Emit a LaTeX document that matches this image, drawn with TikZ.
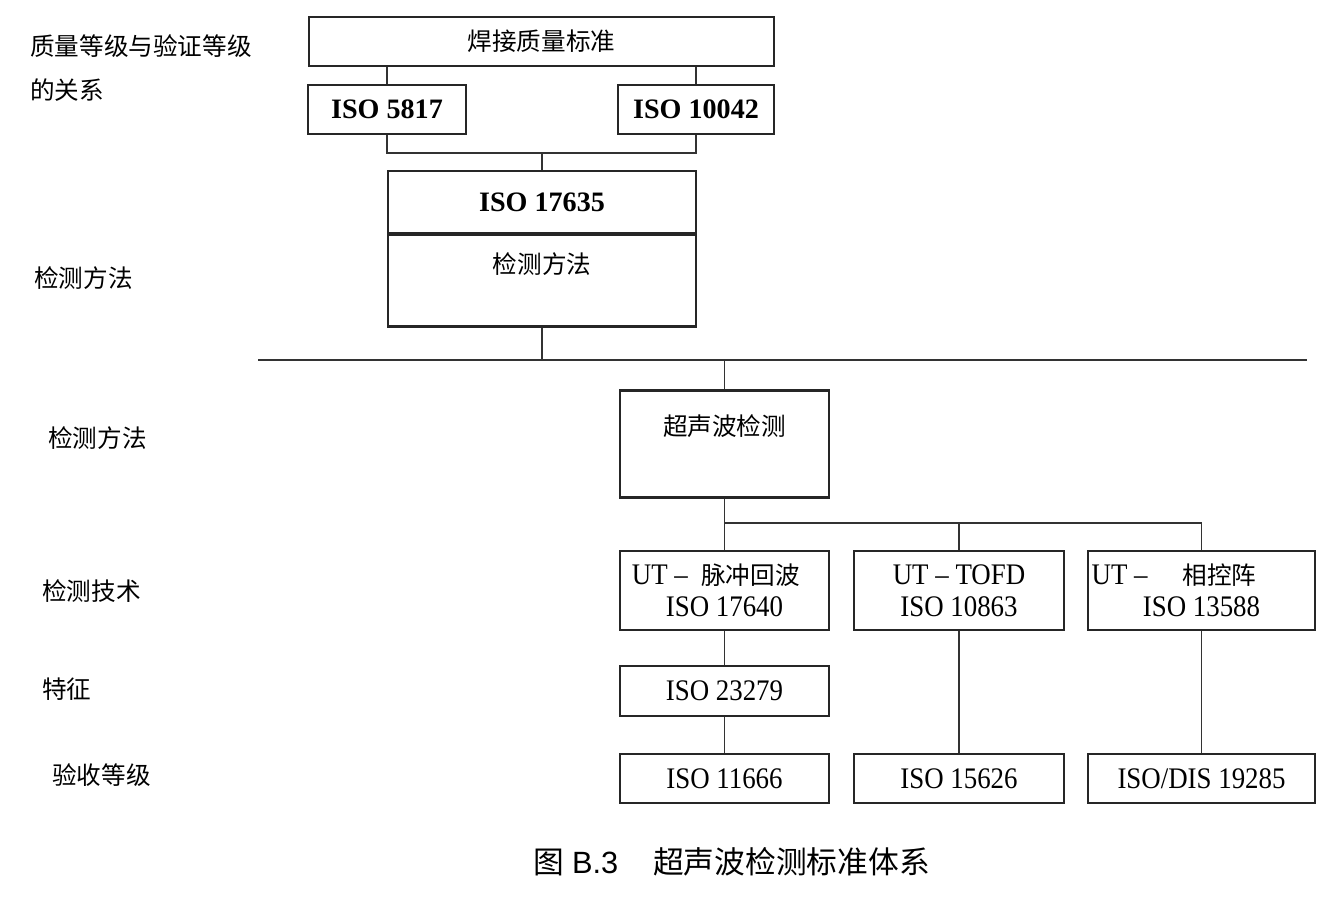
\documentclass[tikz,border=0pt]{standalone}
\usepackage{fontspec}
\setmainfont{Liberation Serif}
\newfontfamily\cjk{Noto Sans CJK SC}
\newfontfamily\isofont[FakeStretch=0.9]{Liberation Serif}
\newfontfamily\capsans{Liberation Sans}
\usetikzlibrary{positioning}

\begin{document}
\begin{tikzpicture}[x=0.02cm, y=-0.02cm,
    stdbox/.style={draw=black!85, line width=1.5pt, inner sep=0pt, align=center},
    boldiso/.style={font=\fontsize{16}{18}\bfseries\selectfont},
    plainiso/.style={font=\fontsize{17}{18}\isofont},
    link/.style={draw=black!80, line width=0.6pt},
    sidelabel/.style={anchor=west, inner sep=0pt, align=left, font=\fontsize{14}{25}\cjk}]
        \useasboundingbox (0,0) rectangle (1337,913);

        % Upper part: quality standards
        \node[stdbox, minimum width=9.3cm, minimum height=0.98cm, font=\fontsize{14}{16}\cjk] (std) at (541.5,41.5) {焊接质量标准};
        \node[stdbox, boldiso, minimum width=3.16cm, minimum height=0.98cm] (iso5817) at (387,109.5) {ISO 5817};
        \node[stdbox, boldiso, minimum width=3.12cm, minimum height=0.98cm] (iso10042) at (696,109.5) {ISO 10042};
        \node[stdbox, boldiso, minimum width=6.16cm, minimum height=1.24cm] (iso17635) at (542,202) {ISO 17635};
        \node[stdbox, anchor=north, minimum width=6.16cm, text height=0.786cm, text depth=1.054cm, font=\fontsize{14}{16}\cjk] (method) at (542,233) {检测方法};

        \draw[link] (iso5817.north) -- (iso5817.north |- std.south);
        \draw[link] (iso10042.north) -- (iso10042.north |- std.south);
        \coordinate (fork1) at (542,153);
        \draw[link] (iso5817.south) |- (fork1) -| (iso10042.south);
        \draw[link] (fork1) -- (iso17635.north);

        % Separating line
        \coordinate (busL) at (258,360);
        \coordinate (busR) at (1307,360);
        \draw[line width=0.7pt, draw=black!80] (busL) -- (busR);
        \draw[link] (method.south) -- (method.south |- busL);

        % Lower part: ultrasonic testing
        \node[stdbox, anchor=north, minimum width=4.18cm, text height=0.906cm, text depth=1.234cm, font=\fontsize{14}{16}\cjk] (ut) at (724.5,389) {超声波检测};
        \draw[link] (ut.north) -- (ut.north |- busL);

        \node[stdbox, plainiso, minimum width=4.18cm, minimum height=1.58cm] (pe) at (724.5,590.5) {UT\ –\ \ {\fontsize{14}{18}\cjk 脉冲回波}\kern0.35cm\\ISO 17640};
        \node[stdbox, plainiso, minimum width=4.2cm, minimum height=1.58cm] (tofd) at (959,590.5) {UT – TOFD\\ISO 10863};
        \node[stdbox, plainiso, minimum width=4.54cm, minimum height=1.58cm] (pa) at (1201.5,590.5) {UT –\hspace{0.7cm}{\fontsize{14}{18}\cjk 相控阵}\kern1.1cm\\ISO 13588};

        \coordinate (fork2) at (724.5,523);
        \draw[link] (ut.south) -- (pe.north);
        \draw[link] (fork2) -| (tofd.north);
        \draw[link] (fork2) -| (pa.north);

        \node[stdbox, plainiso, minimum width=4.18cm, minimum height=1.0cm] (iso23279) at (724.5,691) {ISO 23279};
        \node[stdbox, plainiso, minimum width=4.18cm, minimum height=0.98cm] (iso11666) at (724.5,778.5) {ISO 11666};
        \node[stdbox, plainiso, minimum width=4.2cm, minimum height=0.98cm] (iso15626) at (959,778.5) {ISO 15626};
        \node[stdbox, plainiso, minimum width=4.54cm, minimum height=0.98cm] (iso19285) at (1201.5,778.5) {ISO/DIS 19285};

        \draw[link] (pe.south) -- (iso23279.north);
        \draw[link] (iso23279.south) -- (iso11666.north);
        \draw[link] (tofd.south) -- (iso15626.north);
        \draw[link] (pa.south) -- (iso19285.north);

        % Left labels
        \node[sidelabel] (lblrel) at (30,68) {质量等级与验证等级\\的关系};
        \node[sidelabel] (lblmeth1) at (34,278) {检测方法};
        \node[sidelabel] (lblmeth2) at (48,438) {检测方法};
        \node[sidelabel] (lbltech) at (42,591) {检测技术};
        \node[sidelabel] (lblfeat) at (42,689) {特征};
        \node[sidelabel] (lblacc) at (52,775) {验收等级};

        % Caption
        \node[anchor=west, inner sep=0pt, font=\fontsize{17.5}{20}\selectfont] (caption) at (533,862)
            {{\cjk 图}\hspace{0.16cm}{\capsans B.3}\hspace{0.7cm}{\cjk 超声波检测标准体系}};
\end{tikzpicture}
\end{document}
